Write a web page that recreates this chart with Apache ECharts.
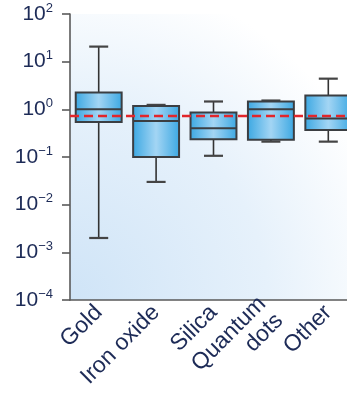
<!DOCTYPE html>
<html>
<head>
<meta charset="utf-8">
<script src="https://cdn.jsdelivr.net/npm/echarts@6/dist/echarts.min.js"></script>
<style>
  html, body { margin: 0; padding: 0; background: #ffffff; }
  #chart { width: 347px; height: 398px; }
</style>
</head>
<body>
<div id="chart"></div>
<script>
// Particle categories and box-plot statistics (log-scale values)
const categories = ['Gold', 'Iron oxide', 'Silica', 'Quantum\ndots', 'Other'];
const whiskerLow  = [0.002, 0.03, 0.106, 0.21, 0.21];
const quartile1   = [0.54, 0.10, 0.237, 0.23, 0.37];
const medians     = [1.0, 0.57, 0.40, 1.0, 0.64];
const quartile3   = [2.25, 1.17, 0.86, 1.46, 1.95];
const whiskerHigh = [20.7, 1.24, 1.46, 1.53, 4.4];
const referenceLevel = 0.73;
const yMin = 1e-4;
const yMax = 1e2;

const boxData = categories.map((c, i) => [i, whiskerLow[i], quartile1[i], medians[i], quartile3[i], whiskerHigh[i]]);

const chart = echarts.init(document.getElementById('chart'));

const labelColor = '#1d2b57';
const axisColor = '#5a5a5a';

function expLabel(v) {
  const e = Math.round(Math.log10(v));
  const s = e < 0 ? '\u2212' + Math.abs(e) : String(e);
  return '{b|10}{s|' + s + '}';
}

function renderBox(params, api) {
  const x = api.value(0);
  const pLow = api.coord([x, api.value(1)]);
  const pQ1 = api.coord([x, api.value(2)]);
  const pMed = api.coord([x, api.value(3)]);
  const pQ3 = api.coord([x, api.value(4)]);
  const pHigh = api.coord([x, api.value(5)]);
  const band = api.size([1, 0])[0];
  const bw = band * 0.8;
  const cw = 19;
  const cx = pMed[0];
  const whisker = { stroke: '#333333', lineWidth: 1.6 };
  const fill = new echarts.graphic.LinearGradient(0, 0, 1, 0, [
    { offset: 0, color: '#3aa7e2' },
    { offset: 0.5, color: '#a3d5f4' },
    { offset: 1, color: '#3aa7e2' }
  ]);
  return {
    type: 'group',
    children: [
      { type: 'line', shape: { x1: cx, y1: pHigh[1], x2: cx, y2: pQ3[1] }, style: whisker },
      { type: 'line', shape: { x1: cx, y1: pQ1[1], x2: cx, y2: pLow[1] }, style: whisker },
      { type: 'line', shape: { x1: cx - cw / 2, y1: pHigh[1], x2: cx + cw / 2, y2: pHigh[1] }, style: { stroke: '#444444', lineWidth: 2.2 } },
      { type: 'line', shape: { x1: cx - cw / 2, y1: pLow[1], x2: cx + cw / 2, y2: pLow[1] }, style: { stroke: '#444444', lineWidth: 2.2 } },
      { type: 'rect', shape: { x: cx - bw / 2, y: pQ3[1], width: bw, height: pQ1[1] - pQ3[1] },
        style: { fill: fill, stroke: '#3b3e42', lineWidth: 2 } },
      { type: 'line', shape: { x1: cx - bw / 2, y1: pMed[1], x2: cx + bw / 2, y2: pMed[1] }, style: { stroke: '#3b3e42', lineWidth: 2 } }
    ]
  };
}

chart.setOption({
  animation: false,
  grid: {
    left: 70, top: 14, right: -10, bottom: 98,
    outerBoundsMode: 'none',
    containLabel: false,
    show: true, borderWidth: 0,
    backgroundColor: new echarts.graphic.RadialGradient(0, 1, 1.15, [
      { offset: 0, color: '#cfe4f7' },
      { offset: 0.6, color: '#e6f1fb' },
      { offset: 1, color: '#ffffff' }
    ])
  },
  xAxis: {
    type: 'category',
    data: categories,
    boundaryGap: true,
    axisLine: { lineStyle: { color: axisColor, width: 1.6 } },
    axisTick: { alignWithLabel: true, length: 8, lineStyle: { color: axisColor, width: 1.6 } },
    axisLabel: {
      interval: 0, rotate: 45, margin: 9,
      color: labelColor, fontSize: 23, fontFamily: 'Liberation Sans', lineHeight: 24
    },
    splitLine: { show: false }
  },
  yAxis: {
    type: 'log',
    logBase: 10,
    min: yMin, max: yMax,
    splitNumber: 6,
    axisLine: { show: true, lineStyle: { color: axisColor, width: 1.6 } },
    axisTick: { show: true, length: 8, lineStyle: { color: axisColor, width: 1.6 } },
    splitLine: { show: false },
    minorTick: { show: false },
    axisLabel: {
      margin: 17,
      formatter: expLabel,
      rich: {
        b: { fontSize: 21, color: labelColor, fontFamily: 'Liberation Sans' },
        s: { fontSize: 13, color: labelColor, fontFamily: 'Liberation Sans', padding: [0, 0, 12, 0] }
      }
    }
  },
  series: [{
    type: 'custom',
    renderItem: renderBox,
    data: boxData,
    encode: { x: 0, y: [1, 2, 3, 4, 5] },
    z: 3,
    markLine: {
      silent: true,
      symbol: 'none',
      label: { show: false },
      lineStyle: { color: '#e2262b', width: 2.4, type: [9, 5] },
      data: [{ yAxis: referenceLevel }],
      z: 5
    }
  }]
});
</script>
</body>
</html>
